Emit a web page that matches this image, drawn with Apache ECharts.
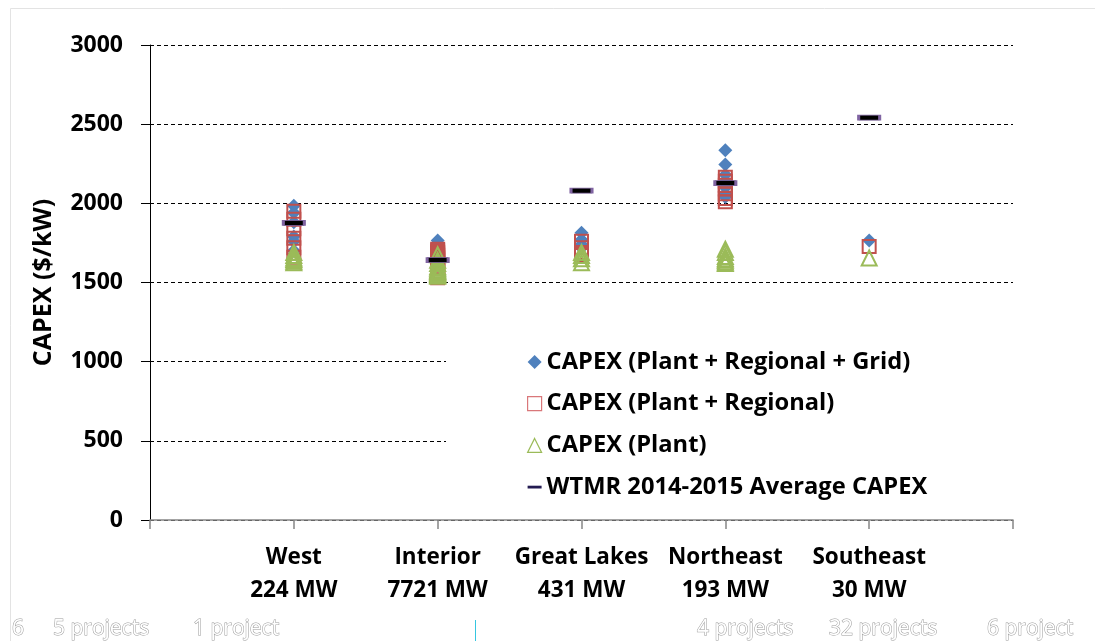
<!DOCTYPE html>
<html>
<head>
<meta charset="utf-8">
<script src="https://cdn.jsdelivr.net/npm/echarts@6/dist/echarts.min.js"></script>
<style>
html,body{margin:0;padding:0;background:#fff;}
#chart{width:1095px;height:641px;}
</style>
</head>
<body>
<div id="chart"></div>
<script>
// ---- data ----
const categories = ['West\n224 MW', 'Interior\n7721 MW', 'Great Lakes\n431 MW', 'Northeast\n193 MW', 'Southeast\n30 MW'];
const seriesNames = ['CAPEX (Plant + Regional + Grid)', 'CAPEX (Plant + Regional)', 'CAPEX (Plant)', 'WTMR 2014-2015 Average CAPEX'];
const yTicks = [0, 500, 1000, 1500, 2000, 2500, 3000];
const footerLabels = ['6', '5 projects', '1 project', '4 projects', '32 projects', '6 project'];

const capexGrid = [
  [1985, 1940, 1880, 1790, 1760, 1700],
  [1765, 1745, 1730, 1715, 1705, 1695, 1690, 1680, 1675, 1670, 1660, 1650, 1640, 1630],
  [1815, 1770, 1740, 1720],
  [2335, 2245, 2180, 2140, 2100, 2060, 2040],
  [1765]
];
const capexRegional = [
  [1950, 1900, 1840, 1780, 1720, 1660],
  [1710, 1700, 1690, 1680, 1670, 1660, 1650, 1640, 1620, 1600, 1590, 1570, 1550, 1530],
  [1760, 1720, 1690, 1670],
  [2165, 2140, 2115, 2090, 2060, 2030, 2010],
  [1728]
];
const capexPlant = [
  [1690, 1670, 1655, 1645, 1635, 1625],
  [1675, 1640, 1620, 1600, 1590, 1580, 1575, 1570, 1565, 1560, 1555, 1550, 1545, 1540],
  [1690, 1670, 1650, 1625],
  [1710, 1690, 1665, 1650, 1640, 1630, 1620],
  [1655]
];
const wtmrAverage = [1876, 1642, 2080, 2128, 2541];

// ---- build ----
function toPoints(groups) {
  const out = [];
  groups.forEach((vals, i) => vals.forEach(v => out.push([i + 1, v])));
  return out;
}
const FONT = '"Open Sans"';
const footerX = [12, 53, 193, 697, 829, 987];
const ghostStyle = (t) => ({ text: t, fill: '#fff', stroke: '#9a9a9a', lineWidth: 1, font: '21px "Open Sans"' });

const chart = echarts.init(document.getElementById('chart'));
chart.setOption({
  animation: false,
  backgroundColor: '#fff',
  textStyle: { fontFamily: FONT },
  grid: { left: 150, right: 82, top: 45, bottom: 121 },
  xAxis: {
    type: 'value', min: 0, max: categories.length + 1, interval: 1,
    splitLine: { show: false },
    axisLine: { show: true, lineStyle: { color: '#868686', width: 1.5 } },
    axisTick: { show: true, length: 9, lineStyle: { color: '#868686', width: 1.5 } },
    axisLabel: {
      margin: 21, color: '#000', fontSize: 22.5, fontWeight: 'bold', lineHeight: 33, fontFamily: FONT,
      formatter: v => (v >= 1 && v <= categories.length) ? categories[v - 1] : ''
    }
  },
  yAxis: {
    type: 'value', min: yTicks[0], max: yTicks[yTicks.length - 1], interval: 500,
    name: 'CAPEX ($/kW)', nameLocation: 'middle', nameGap: 94, nameRotate: 90,
    nameTextStyle: { color: '#000', fontSize: 25, fontWeight: 'bold', fontFamily: FONT },
    axisLine: { show: true, lineStyle: { color: '#000', width: 1 } },
    axisTick: { show: true, length: 9, lineStyle: { color: '#000' } },
    axisLabel: { margin: 27, color: '#000', fontSize: 23, fontWeight: 'bold', fontFamily: FONT,
      formatter: v => yTicks.includes(v) ? String(v) : '' },
    splitLine: { show: true, lineStyle: { color: '#000', type: [4, 3], width: 1 } }
  },
  legend: {
    orient: 'vertical', left: 522, top: 345, itemWidth: 14, itemHeight: 14, itemGap: 17.7,
    textStyle: { color: '#000', fontSize: 23.7, fontWeight: 'bold', fontFamily: FONT, padding: [0, 0, 0, 0] },
    data: [
      { name: seriesNames[0], icon: 'diamond', itemStyle: { color: '#4f81bd', borderWidth: 0 } },
      { name: seriesNames[1], icon: 'rect', itemStyle: { color: 'rgba(0,0,0,0)', borderColor: '#d9777a', borderWidth: 1.2 } },
      { name: seriesNames[2], icon: 'triangle', itemStyle: { color: 'rgba(0,0,0,0)', borderColor: '#9bbb59', borderWidth: 1.2 } },
      { name: seriesNames[3], icon: 'path://M0,0h10v2h-10z', itemStyle: { color: '#241b52', borderWidth: 0 } }
    ]
  },
  graphic: [
    { type: 'rect', z: 3, shape: { x: 446, y: 335, width: 567, height: 172 }, style: { fill: '#fff' } },
    { type: 'rect', z: 0, shape: { x: 10.5, y: 8.5, width: 1100, height: 700 }, style: { fill: 'none', stroke: '#e3e3e3', lineWidth: 1 } },
    { type: 'line', z: 5, shape: { x1: 475.5, y1: 620, x2: 475.5, y2: 641 }, style: { stroke: '#36c6e0', lineWidth: 1 } }
  ].concat(footerLabels.map((t, i) => ({ type: 'text', z: 5, x: footerX[i], y: 619, style: ghostStyle(t) }))),
  series: [
    { name: seriesNames[0], type: 'scatter', symbol: 'diamond', symbolSize: 14,
      itemStyle: { color: '#4f81bd', opacity: 1 }, data: toPoints(capexGrid) },
    { name: seriesNames[1], type: 'scatter', symbol: 'rect', symbolSize: 13,
      itemStyle: { color: 'rgba(0,0,0,0)', borderColor: '#c0504d', borderWidth: 2, opacity: 1 }, data: toPoints(capexRegional) },
    { name: seriesNames[2], type: 'scatter', symbol: 'triangle', symbolSize: 15,
      itemStyle: { color: 'rgba(0,0,0,0)', borderColor: '#9bbb59', borderWidth: 2, opacity: 1 }, data: toPoints(capexPlant) },
    { name: seriesNames[3], type: 'scatter', symbol: 'rect', symbolSize: [21, 5],
      itemStyle: { color: '#000', borderColor: '#8064a2', borderWidth: 1.5, opacity: 1 },
      data: wtmrAverage.map((v, i) => [i + 1, v]) }
  ]
});
</script>
</body>
</html>
